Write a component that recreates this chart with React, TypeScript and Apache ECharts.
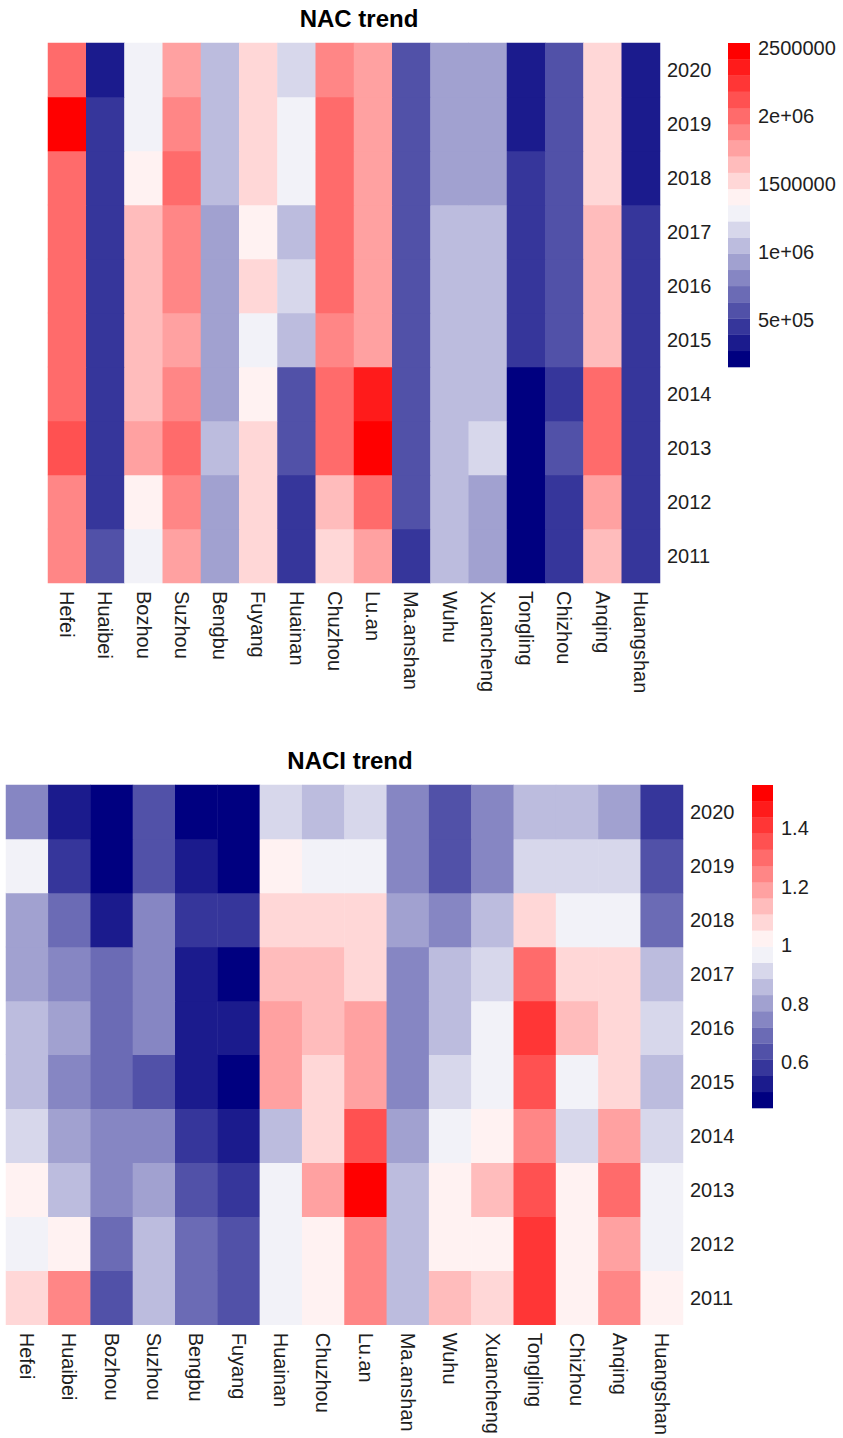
import React, { useEffect, useRef } from 'react';
import * as echarts from 'echarts';

// ---------- categories ----------
const cities = ['Hefei', 'Huaibei', 'Bozhou', 'Suzhou', 'Bengbu', 'Fuyang', 'Huainan', 'Chuzhou', 'Lu.an', 'Ma.anshan', 'Wuhu', 'Xuancheng', 'Tongling', 'Chizhou', 'Anqing', 'Huangshan'];
const years = ['2011', '2012', '2013', '2014', '2015', '2016', '2017', '2018', '2019', '2020'];

// ---------- NAC values (city order as above) ----------
const nac2011 = [1880000, 563000, 1279000, 1760000, 934000, 1516000, 448000, 1520000, 1766000, 460000, 1044000, 927000, 210000, 449000, 1638000, 458000];
const nac2012 = [1872000, 447000, 1415000, 1884000, 929000, 1522000, 455000, 1641000, 2009000, 567000, 1049000, 922000, 201000, 446000, 1757000, 455000];
const nac2013 = [2125000, 451000, 1768000, 2006000, 1052000, 1527000, 566000, 2004000, 2470000, 570000, 1053000, 1170000, 154000, 573000, 2001000, 449000];
const nac2014 = [1994000, 449000, 1650000, 1870000, 931000, 1401000, 578000, 1992000, 2350000, 574000, 1046000, 1051000, 192000, 452000, 1990000, 453000];
const nac2015 = [2003000, 458000, 1645000, 1755000, 926000, 1283000, 1043000, 1878000, 1762000, 572000, 1050000, 1049000, 446000, 568000, 1640000, 457000];
const nac2016 = [1996000, 452000, 1638000, 1886000, 920000, 1519000, 1172000, 2015000, 1770000, 565000, 1041000, 1045000, 449000, 577000, 1652000, 451000];
const nac2017 = [2005000, 440000, 1630000, 1875000, 935000, 1412000, 1055000, 2008000, 1758000, 562000, 1048000, 1052000, 455000, 571000, 1646000, 448000];
const nac2018 = [2012000, 448000, 1398000, 1992000, 1040000, 1536000, 1292000, 1998000, 1765000, 569000, 933000, 925000, 462000, 580000, 1529000, 336000];
const nac2019 = [2537000, 455000, 1301000, 1867000, 1035000, 1541000, 1280000, 2010000, 1752000, 578000, 921000, 936000, 322000, 575000, 1516000, 328000];
const nac2020 = [1985000, 318000, 1272000, 1748000, 1062000, 1530000, 1158000, 1894000, 1770000, 584000, 915000, 940000, 305000, 566000, 1508000, 342000];

// ---------- NACI values ----------
const naci2011 = [1.08, 1.24, 0.63, 0.86, 0.69, 0.64, 0.96, 1.03, 1.24, 0.86, 1.13, 1.08, 1.40, 1.02, 1.25, 1.02];
const naci2012 = [0.96, 1.02, 0.69, 0.85, 0.70, 0.63, 0.97, 1.02, 1.25, 0.87, 1.02, 1.03, 1.41, 1.01, 1.19, 0.97];
const naci2013 = [1.02, 0.86, 0.74, 0.80, 0.64, 0.59, 0.97, 1.18, 1.547, 0.86, 1.03, 1.13, 1.35, 1.02, 1.30, 0.96];
const naci2014 = [0.91, 0.81, 0.75, 0.74, 0.58, 0.52, 0.86, 1.07, 1.36, 0.80, 0.97, 1.02, 1.24, 0.92, 1.19, 0.91];
const naci2015 = [0.85, 0.74, 0.68, 0.64, 0.53, 0.48, 1.20, 1.08, 1.19, 0.75, 0.91, 0.96, 1.35, 0.97, 1.08, 0.86];
const naci2016 = [0.86, 0.80, 0.70, 0.75, 0.52, 0.53, 1.19, 1.13, 1.18, 0.76, 0.85, 0.97, 1.41, 1.14, 1.07, 0.92];
const naci2017 = [0.81, 0.75, 0.69, 0.74, 0.53, 0.47, 1.13, 1.14, 1.08, 0.75, 0.86, 0.91, 1.30, 1.07, 1.08, 0.85];
const naci2018 = [0.80, 0.69, 0.52, 0.75, 0.58, 0.57, 1.08, 1.07, 1.08, 0.81, 0.74, 0.86, 1.09, 0.97, 0.96, 0.70];
const naci2019 = [0.97, 0.58, 0.47, 0.64, 0.53, 0.46, 1.02, 0.96, 0.97, 0.75, 0.63, 0.76, 0.91, 0.92, 0.91, 0.64];
const naci2020 = [0.75, 0.52, 0.443, 0.63, 0.46, 0.47, 0.91, 0.86, 0.92, 0.74, 0.64, 0.75, 0.85, 0.86, 0.80, 0.58];

// ---------- legend tick labels ----------
const nacTicks = [500000, 1000000, 1500000, 2000000, 2500000];
const nacTickLabels = ['5e+05', '1e+06', '1500000', '2e+06', '2500000'];
const naciTicks = [0.6, 0.8, 1.0, 1.2, 1.4];
const naciTickLabels = ['0.6', '0.8', '1', '1.2', '1.4'];

const nacRows = [nac2011, nac2012, nac2013, nac2014, nac2015, nac2016, nac2017, nac2018, nac2019, nac2020];
const naciRows = [naci2011, naci2012, naci2013, naci2014, naci2015, naci2016, naci2017, naci2018, naci2019, naci2020];

const N_COLORS = 20;
// colorRampPalette(c("navy", "white", "red"))(20)
function buildPalette(n: number): string[] {
  const out: string[] = [];
  for (let i = 0; i < n; i++) {
    const t = i / (n - 1);
    let r, g, b;
    if (t <= 0.5) {
      const s = t / 0.5;
      r = 255 * s; g = 255 * s; b = 128 + 127 * s;
    } else {
      const s = (t - 0.5) / 0.5;
      r = 255; g = 255 * (1 - s); b = 255 * (1 - s);
    }
    out.push(`rgb(${Math.round(r)},${Math.round(g)},${Math.round(b)})`);
  }
  return out;
}
const palette = buildPalette(N_COLORS);

function heatData(rows: number[][]) {
  const d: number[][] = [];
  rows.forEach((row, yi) => row.forEach((v, xi) => d.push([xi, yi, v])));
  return d;
}
function extent(rows: number[][]) {
  const all = rows.flat();
  return [Math.min(...all), Math.max(...all)];
}
function bins(lo: number, hi: number) {
  const w = (hi - lo) / N_COLORS;
  const b: number[][] = [];
  for (let i = 0; i < N_COLORS; i++) b.push([lo + i * w, i === N_COLORS - 1 ? hi : lo + (i + 1) * w, i]);
  return b;
}
function pieces(lo: number, hi: number) {
  return bins(lo, hi).map(([a, b, i]) =>
    i === N_COLORS - 1 ? { gte: a, lte: b, color: palette[i] } : { gte: a, lt: b, color: palette[i] }
  );
}
function tickFormatter(ticks: number[], labels: string[]) {
  return (v: number) => {
    const k = ticks.findIndex((t) => Math.abs(t - v) < Math.abs(t) * 1e-6 + 1e-9);
    return k >= 0 ? labels[k] : '';
  };
}

const FONT = 'Liberation Sans, Arial, Helvetica, sans-serif';
const TXT = '#1e1e1e';

export default function App() {
  const ref = useRef<HTMLDivElement>(null);
  useEffect(() => {
    document.body.style.margin = '0';
    if (!ref.current) return;
    const chart = echarts.init(ref.current, undefined, { renderer: 'svg' });
    const [nacMin, nacMax] = extent(nacRows);
    const [naciMin, naciMax] = extent(naciRows);

    const legendRender = (params: any, api: any) => {
      const lo = api.value(0);
      const hi = api.value(1);
      const p0 = api.coord([0, lo]);
      const p1 = api.coord([1, hi]);
      return {
        type: 'rect',
        shape: { x: p0[0], y: p1[1], width: p1[0] - p0[0], height: p0[1] - p1[1] + 0.3 },
        style: { fill: palette[api.value(2)] },
      };
    };

    const catX = (gi: number) => ({
      gridIndex: gi,
      type: 'category',
      data: cities,
      axisLine: { show: false },
      axisTick: { show: false },
      splitLine: { show: false },
      axisLabel: { rotate: -90, fontSize: 20, fontFamily: FONT, color: TXT, margin: 8, interval: 0 },
    });
    const catY = (gi: number) => ({
      gridIndex: gi,
      type: 'category',
      data: years,
      position: 'right',
      axisLine: { show: false },
      axisTick: { show: false },
      splitLine: { show: false },
      axisLabel: { fontSize: 20, fontFamily: FONT, color: TXT, margin: 7 },
    });
    const legX = (gi: number) => ({ gridIndex: gi, type: 'value', min: 0, max: 1, show: false });
    const legY = (gi: number, mn: number, mx: number, ticks: number[], labels: string[]) => ({
      gridIndex: gi,
      type: 'value',
      min: mn,
      max: mx,
      position: 'right',
      axisLine: { show: false },
      axisTick: { show: false },
      splitLine: { show: false },
      axisLabel: {
        fontSize: 20,
        fontFamily: FONT,
        color: TXT,
        margin: 8,
        showMinLabel: false,
        showMaxLabel: false,
        formatter: tickFormatter(ticks, labels),
      },
    });

    chart.setOption({
      animation: false,
      backgroundColor: '#ffffff',
      title: [
        { text: 'NAC trend', left: 354, top: 1, textAlign: 'center', textStyle: { fontSize: 24, fontWeight: 'bold', fontFamily: FONT, color: '#000' } },
        { text: 'NACI trend', left: 345, top: 743, textAlign: 'center', textStyle: { fontSize: 24, fontWeight: 'bold', fontFamily: FONT, color: '#000' } },
      ],
      grid: [
        { left: 48, top: 43, width: 612, height: 540 },
        { left: 728, top: 43, width: 22, height: 324 },
        { left: 6, top: 785, width: 677, height: 541 },
        { left: 752, top: 785, width: 21, height: 323 },
      ],
      xAxis: [catX(0), legX(1), catX(2), legX(3)],
      yAxis: [
        catY(0),
        legY(1, nacMin, nacMax, nacTicks, nacTickLabels),
        catY(2),
        legY(3, naciMin, naciMax, naciTicks, naciTickLabels),
      ],
      visualMap: [
        { type: 'piecewise', show: false, seriesIndex: 0, dimension: 2, pieces: pieces(nacMin, nacMax) },
        { type: 'piecewise', show: false, seriesIndex: 2, dimension: 2, pieces: pieces(naciMin, naciMax) },
      ],
      series: [
        { type: 'heatmap', xAxisIndex: 0, yAxisIndex: 0, data: heatData(nacRows), itemStyle: { borderWidth: 0 }, emphasis: { disabled: true } },
        { type: 'custom', xAxisIndex: 1, yAxisIndex: 1, data: bins(nacMin, nacMax), renderItem: legendRender, encode: { y: [0, 1] } },
        { type: 'heatmap', xAxisIndex: 2, yAxisIndex: 2, data: heatData(naciRows), itemStyle: { borderWidth: 0 }, emphasis: { disabled: true } },
        { type: 'custom', xAxisIndex: 3, yAxisIndex: 3, data: bins(naciMin, naciMax), renderItem: legendRender, encode: { y: [0, 1] } },
      ],
    });
    return () => chart.dispose();
  }, []);
  return <div ref={ref} style={{ width: 843, height: 1438 }} />;
}
